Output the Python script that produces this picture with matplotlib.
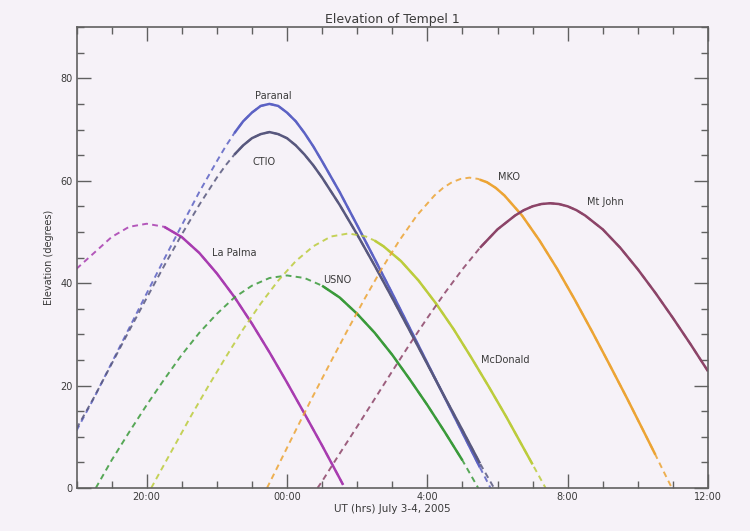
import numpy as np
import matplotlib.pyplot as plt
from matplotlib.ticker import MultipleLocator

# hours relative to 00:00 UT July 4, elevations in degrees
lapalma_t = [-6.0, -5.5, -5.0, -4.5, -4.0, -3.5, -3.0, -2.5, -2.0, -1.5, -1.0, -0.5,
             0.0, 0.5, 1.0, 1.5, 1.6]
lapalma_el = [42.8, 45.9, 49.0, 51.0, 51.6, 51.0, 49.0, 45.9, 41.9, 37.3, 32.1, 26.5,
              20.6, 14.5, 8.3, 1.9, 0.6]

paranal_t = [-6.0, -5.5, -5.0, -4.5, -4.0, -3.5, -3.0, -2.5, -2.0, -1.75, -1.5, -1.25,
             -1.0, -0.75, -0.5, -0.25, 0.0, 0.25, 0.5, 0.75, 1.0, 1.5, 2.0, 2.5, 3.0,
             3.5, 4.0, 4.5, 5.0, 5.5, 5.8]
paranal_el = [11.2, 17.6, 24.4, 31.2, 38.0, 44.7, 51.3, 57.8, 63.8, 66.7, 69.3, 71.6,
              73.3, 74.6, 75.0, 74.6, 73.3, 71.6, 69.3, 66.7, 63.8, 57.8, 51.3, 44.7, 38.0,
              31.2, 24.4, 17.6, 10.8, 4.0, 0.0]

ctio_t = [-6.0, -5.5, -5.0, -4.5, -4.0, -3.5, -3.0, -2.5, -2.0, -1.75, -1.5, -1.25,
          -1.0, -0.75, -0.5, -0.25, 0.0, 0.25, 0.5, 0.75, 1.0, 1.5, 2.0, 2.5, 3.0,
          3.5, 4.0, 4.5, 5.0, 5.5, 5.9]
ctio_el = [11.6, 17.7, 24.2, 30.7, 37.1, 43.4, 49.5, 55.3, 60.6, 63.0, 65.1, 66.9,
           68.3, 69.1, 69.5, 69.1, 68.3, 66.9, 65.1, 63.0, 60.6, 55.3, 49.5, 43.4, 37.1,
           30.7, 24.2, 17.7, 11.3, 4.8, 0.0]

usno_t = [-5.45, -5.0, -4.5, -4.0, -3.5, -3.0, -2.5, -2.0, -1.5, -1.0, -0.5, 0.0,
          0.5, 1.0, 1.5, 2.0, 2.5, 3.0, 3.5, 4.0, 4.5, 5.0, 5.45]
usno_el = [0.0, 5.4, 10.9, 16.2, 21.2, 26.0, 30.3, 34.0, 37.2, 39.5, 41.0, 41.5,
           41.0, 39.5, 37.2, 34.0, 30.3, 26.0, 21.2, 16.2, 10.9, 5.4, 0.0]

mcdonald_t = [-3.87, -3.75, -3.25, -2.75, -2.25, -1.75, -1.25, -0.75, -0.25, 0.25, 0.75,
              1.25, 1.75, 2.25, 2.5, 2.75, 3.25, 3.75, 4.25, 4.75, 5.25, 5.75, 6.25,
              6.75, 7.0, 7.25, 7.37]
mcdonald_el = [0.0, 1.5, 7.7, 13.9, 19.8, 25.5, 31.0, 36.0, 40.5, 44.3, 47.2,
               49.1, 49.7, 49.1, 48.3, 47.2, 44.3, 40.5, 36.0, 31.0, 25.5, 19.8, 13.9,
               7.7, 4.6, 1.5, 0.0]

mko_t = [-0.57, -0.3, 0.2, 0.7, 1.2, 1.7, 2.2, 2.7, 3.2, 3.7, 4.2, 4.45, 4.7, 4.95, 5.2,
         5.45, 5.5, 5.7, 5.95, 6.2, 6.7, 7.2, 7.7, 8.2, 8.7, 9.2, 9.7, 10.2, 10.5, 10.7,
         10.97]
mko_el = [0.0, 3.7, 10.6, 17.4, 24.0, 30.5, 36.8, 42.8, 48.3, 53.2, 57.1, 58.6, 59.7, 60.35,
          60.6, 60.35, 60.2, 59.7, 58.6, 57.1, 53.2, 48.3, 42.8, 36.8, 30.5, 24.0, 17.4,
          10.6, 6.5, 3.7, 0.0]

mtjohn_t = [0.87, 1.0, 1.5, 2.0, 2.5, 3.0, 3.5, 4.0, 4.5, 5.0, 5.5, 6.0, 6.5, 6.75, 7.0,
            7.25, 7.5, 7.75, 8.0, 8.25, 8.5, 9.0, 9.5, 10.0, 10.5, 11.0, 11.5, 12.0]
mtjohn_el = [0.0, 1.3, 6.7, 12.0, 17.4, 22.8, 28.1, 33.2, 38.1, 42.7, 46.9, 50.5, 53.2, 54.25,
             55.0, 55.45, 55.6, 55.45, 55.0, 54.25, 53.2, 50.5, 46.9, 42.7, 38.1, 33.2, 28.1,
             22.8]

# time span drawn solid (observable), rest dashed
lapalma_night = (-3.5, 1.6)
paranal_night = (-1.5, 5.5)
ctio_night = (-1.5, 5.5)
usno_night = (1.0, 5.0)
mcdonald_night = (2.5, 7.0)
mko_night = (5.5, 10.5)
mtjohn_night = (5.5, 12.0)

curves = [
    (lapalma_t, lapalma_el, lapalma_night, "#a83cb0"),
    (paranal_t, paranal_el, paranal_night, "#5c62c4"),
    (ctio_t, ctio_el, ctio_night, "#58587e"),
    (usno_t, usno_el, usno_night, "#3a9a3a"),
    (mcdonald_t, mcdonald_el, mcdonald_night, "#bccc3c"),
    (mko_t, mko_el, mko_night, "#eca434"),
    (mtjohn_t, mtjohn_el, mtjohn_night, "#8c4468"),
]

site_names = ["Paranal", "CTIO", "La Palma", "USNO", "McDonald", "MKO", "Mt John"]
name_x = [-0.4, -0.66, -1.5, 1.43, 6.21, 6.33, 9.07]
name_y = [76.5, 63.6, 45.8, 40.7, 24.9, 60.7, 55.8]

bg = "#f6f2f8"
ink = "#3a3a3a"

fig = plt.figure(figsize=(7.5, 5.31), dpi=100, facecolor=bg)
ax = fig.add_axes([0.102, 0.081, 0.842, 0.868], facecolor=bg)

for t, el, night, col in curves:
    t = np.array(t)
    el = np.array(el)
    ax.plot(t, el, color=col, lw=1.4, ls=(0, (3, 2.2)), alpha=0.85)
    m = (t >= night[0]) & (t <= night[1])
    ax.plot(t[m], el[m], color=col, lw=1.8, solid_capstyle="butt")

for name, x, y in zip(site_names, name_x, name_y):
    ax.text(x, y, name, ha="center", va="center", fontsize=7, color=ink)

ax.set_xlim(-6, 12)
ax.set_ylim(0, 90)
ax.set_xticks([-4, 0, 4, 8, 12])
ax.set_xticklabels(["20:00", "00:00", "4:00", "8:00", "12:00"])
ax.set_yticks([0, 20, 40, 60, 80])
ax.xaxis.set_minor_locator(MultipleLocator(1))
ax.yaxis.set_minor_locator(MultipleLocator(5))
ax.tick_params(which="both", direction="in", top=True, right=True,
               color="#606060", labelsize=7, labelcolor=ink, pad=3)
ax.tick_params(which="major", length=10, width=1)
ax.tick_params(which="minor", length=5, width=1)
ax.tick_params(axis="both", which="both", labeltop=False, labelright=False)
for s in ax.spines.values():
    s.set_color("#606060")
    s.set_linewidth(1.2)

ax.set_title("Elevation of Tempel 1", fontsize=9, color=ink, pad=3)
ax.set_xlabel("UT (hrs) July 3-4, 2005", fontsize=7.5, color=ink, labelpad=1)
ax.set_ylabel("Elevation (degrees)", fontsize=7, color=ink, labelpad=4)

fig.savefig("out.png", dpi=100, facecolor=bg)
